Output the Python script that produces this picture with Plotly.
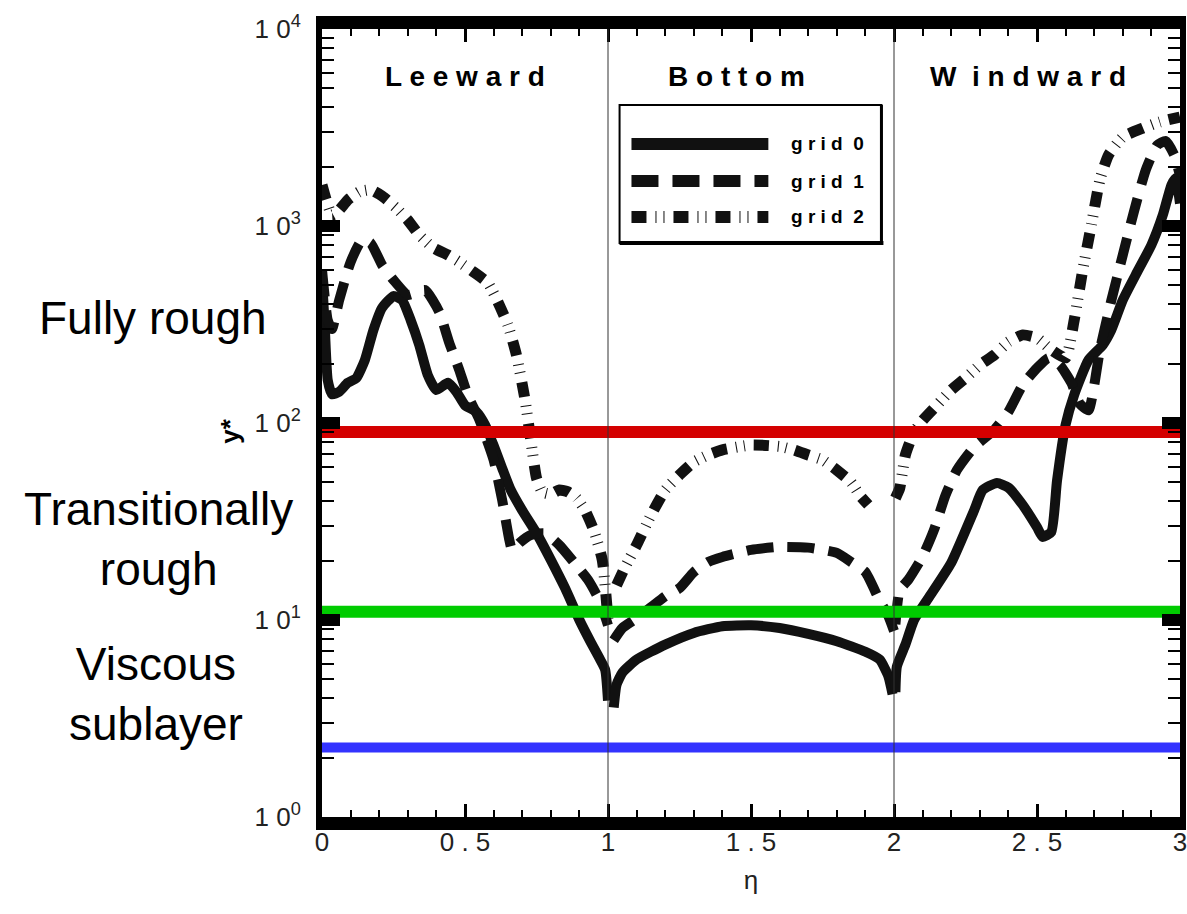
import plotly.graph_objects as go

# ---------------- data ----------------
# grid 0 (solid)
eta_g0 = [0.0, 0.01, 0.02, 0.035, 0.06, 0.09, 0.12, 0.15, 0.18, 0.21, 0.25, 0.28, 0.31, 0.34,
          0.37, 0.40, 0.44, 0.47, 0.50, 0.54, 0.57, 0.60, 0.63, 0.66, 0.70, 0.75, 0.80, 0.85,
          0.90, 0.94, 0.97, 0.99, 1.0,
          None,
          1.02, 1.03, 1.05, 1.10, 1.20, 1.30, 1.40, 1.50, 1.60, 1.70, 1.80, 1.90, 1.95, 1.98, 1.995,
          None,
          2.005, 2.01, 2.04, 2.07, 2.12, 2.20, 2.28, 2.31, 2.36, 2.40, 2.45, 2.50, 2.52, 2.55,
          2.57, 2.60, 2.63, 2.68, 2.73, 2.76, 2.80, 2.85, 2.90, 2.94, 2.97, 2.985, 3.0]
g0 = [550, 300, 165, 140, 144, 160, 169, 209, 297, 384, 441, 421, 333, 249,
      175, 147, 160, 144, 123, 114, 98, 77, 59, 45.7, 36, 27.6, 20.2, 14.5,
      10, 7.7, 6.4, 5.6, 3.9,
      None,
      3.6, 4.7, 5.4, 6.3, 7.5, 8.6, 9.3, 9.4, 9.1, 8.5, 7.8, 6.9, 6.3, 5.2, 4.2,
      None,
      4.3, 5.8, 7.5, 10, 12.9, 19.5, 36, 45.7, 49.6, 47, 38.4, 29.6, 26.4, 28,
      51, 98, 139, 209, 249, 297, 421, 583, 801, 1138, 1616, 1750, 1300]

# grid 1 (dashed)
eta_g1 = [0.0, 0.02, 0.035, 0.06, 0.10, 0.14, 0.17, 0.21, 0.25, 0.30, 0.36, 0.41, 0.445, 0.48,
          0.51, 0.55, 0.60, 0.63, 0.655, 0.665, 0.69, 0.73, 0.78, 0.83, 0.88, 0.93, 0.97, 1.0,
          None,
          1.02, 1.05, 1.10, 1.15, 1.20, 1.25, 1.30, 1.35, 1.40, 1.50, 1.60, 1.70, 1.80, 1.85,
          1.90, 1.95, 1.98, 2.0,
          None,
          2.005, 2.02, 2.05, 2.10, 2.14, 2.18, 2.22, 2.28, 2.35, 2.40, 2.45, 2.50, 2.54, 2.58,
          2.62, 2.65, 2.68, 2.72, 2.76, 2.80, 2.84, 2.88, 2.92, 2.95, 2.98, 3.0]
g1 = [600, 333, 300, 420, 656, 850, 820, 634, 532, 447, 473, 366, 255, 186,
      138, 104, 65, 40.6, 25.5, 22.6, 24.6, 27, 27.5, 24, 19.7, 16, 12.6, 9.4,
      None,
      7.9, 9.1, 10.2, 11.6, 13.2, 14.5, 17.5, 19.7, 20.9, 22.7, 23.5, 23.3, 21.9, 19.7,
      17.5, 12.5, 10.5, 8.8,
      None,
      9.5, 14.2, 16, 21, 28.7, 43, 57.7, 75.5, 92, 114, 156, 190, 214, 197,
      160, 125, 116, 235, 420, 713, 1200, 1920, 2570, 2700, 2290, 1800]

# grid 2 (dash-dot-dot)
eta_g2 = [0.0, 0.015, 0.035, 0.06, 0.09, 0.13, 0.17, 0.21, 0.26, 0.30, 0.34, 0.39, 0.44, 0.48,
          0.53, 0.58, 0.62, 0.65, 0.68, 0.71, 0.73, 0.75, 0.77, 0.80, 0.83, 0.86, 0.89, 0.92,
          0.95, 0.98, 1.0,
          None,
          1.03, 1.06, 1.10, 1.15, 1.20, 1.25, 1.30, 1.35, 1.40, 1.50, 1.60, 1.65, 1.70, 1.75,
          1.80, 1.85, 1.88, 1.91,
          None,
          2.005, 2.02, 2.04, 2.07, 2.10, 2.15, 2.20, 2.25, 2.30, 2.35, 2.40, 2.45, 2.50, 2.55,
          2.60, 2.63, 2.66, 2.69, 2.72, 2.75, 2.80, 2.87, 2.93, 3.0]
g2 = [1616, 1355, 1138, 1205, 1355, 1490, 1525, 1420, 1233, 1072, 900, 773, 713, 657,
      584, 514, 397, 314, 221, 131, 82, 52.6, 44.7, 43.6, 45.7, 44.7, 41.6, 36,
      28.6, 20.2, 10,
      None,
      15, 18.6, 24, 34, 45.7, 54.5, 63.4, 68.8, 73, 77.3, 76, 73, 68.8, 65,
      57.7, 50, 43, 38.4,
      None,
      41.6, 46.7, 69, 90, 103, 123, 147, 169, 197, 221, 258, 280, 270, 235,
      214, 333, 598, 1011, 1714, 2291, 2830, 3140, 3376, 3576]

series_names = ["grid 0", "grid 1", "grid 2"]
legend_labels = ["g r i d  0", "g r i d  1", "g r i d  2"]

# regime thresholds and labels
thresholds = [90, 11, 2.25]
regime_labels = ["Fully rough", "Transitionally<br>rough", "Viscous<br>sublayer"]

# zone dividers and names
dividers = [1, 2]
zone_names = ["L e e w a r d", "B o t t o m", "W  i n d w a r d"]
zone_centers = [0.5, 1.45, 2.47]

x_tickvals = [0, 0.5, 1, 1.5, 2, 2.5, 3]
x_ticktext = ["0", "0 . 5", "1", "1 . 5", "2", "2 . 5", "3"]
y_tickvals = [1, 10, 100, 1000, 10000]
y_ticktext = ["1 0<sup>0</sup>", "1 0<sup>1</sup>", "1 0<sup>2</sup>", "1 0<sup>3</sup>", "1 0<sup>4</sup>"]
y_minor = [m * 10 ** d for d in range(4) for m in range(2, 10)]

# ---------------- styles ----------------
ARIAL = "Liberation Sans, Arial, sans-serif"
dashes = ["solid", "27px,14px", "15px,9px,1px,7px,1px,9px"]
widths = [10, 10, 11]
thr_colors = ["#d40000", "#00cc00", "#3333ff"]
thr_widths = [12, 12, 10]

# pixel helpers for paper-placed decorations (plot area: x 322..1187, y 29..817)
def px_x(p):
    return (p - 322) / 865

def px_y(p):
    return 1 - (p - 29) / 788

fig = go.Figure()
for xs, ys, name, dash, w in zip([eta_g0, eta_g1, eta_g2], [g0, g1, g2], series_names, dashes, widths):
    fig.add_trace(go.Scatter(x=xs, y=ys, mode="lines", name=name, connectgaps=False,
                             line=dict(color="#111111", width=w, dash=dash, shape="spline", smoothing=0.5),
                             showlegend=False))

for t, c, w in zip(thresholds, thr_colors, thr_widths):
    fig.add_trace(go.Scatter(x=[0, 3], y=[t, t], mode="lines", line=dict(color=c, width=w),
                             showlegend=False, hoverinfo="skip"))

for d in dividers:
    fig.add_shape(type="line", xref="x", yref="paper", x0=d, x1=d, y0=0, y1=1,
                  line=dict(color="#333333", width=1), layer="above")

for name, cx in zip(zone_names, zone_centers):
    fig.add_annotation(x=cx, xref="x", y=px_y(76), yref="paper", xanchor="center", yanchor="middle",
                       text=name, showarrow=False,
                       font=dict(family=ARIAL, size=28, color="black", weight="bold"))

# manual legend box
fig.add_shape(type="rect", xref="paper", yref="paper", x0=px_x(622), x1=px_x(886),
              y0=px_y(243), y1=px_y(105),
              line=dict(color="black", width=2), fillcolor="white", layer="above")
fig.add_shape(type="line", xref="paper", yref="paper", x0=px_x(622), x1=px_x(888),
              y0=px_y(243), y1=px_y(243), line=dict(color="black", width=4), layer="above")
fig.add_shape(type="line", xref="paper", yref="paper", x0=px_x(886), x1=px_x(886),
              y0=px_y(245), y1=px_y(105), line=dict(color="black", width=3), layer="above")
leg_rows_px = [144, 181, 217]
for ypx, lab, dash in zip(leg_rows_px, legend_labels, dashes):
    fig.add_shape(type="line", xref="paper", yref="paper", x0=px_x(634), x1=px_x(772),
                  y0=px_y(ypx), y1=px_y(ypx), line=dict(color="#111111", width=12, dash=dash),
                  layer="above")
    fig.add_annotation(x=px_x(793), xref="paper", y=px_y(ypx), yref="paper", xanchor="left",
                       yanchor="middle", text=lab, showarrow=False,
                       font=dict(family=ARIAL, size=19, color="black", weight="bold"))

# regime labels on the left
reg_px = [(152, 318), (157, 539), (155, 694)]
for lab, (px, py) in zip(regime_labels, reg_px):
    fig.add_annotation(x=px_x(px), xref="paper", y=px_y(py), yref="paper",
                       text=lab, showarrow=False, font=dict(family=ARIAL, size=46, color="black"),
                       align="center", xanchor="center", yanchor="middle")

# y-axis title
fig.add_annotation(x=px_x(229), xref="paper", y=px_y(431), yref="paper", xanchor="center",
                   yanchor="middle", text="y*", textangle=-90, showarrow=False,
                   font=dict(family=ARIAL, size=26, color="black", weight="bold"))

fig.update_layout(
    width=1187, height=914,
    margin=dict(l=322, r=0, t=29, b=97),
    paper_bgcolor="white", plot_bgcolor="white",
    showlegend=False,
    xaxis=dict(range=[0, 3], showgrid=False, zeroline=False, showline=True, linecolor="black",
               linewidth=13, mirror="ticks", ticks="inside", ticklen=13, tickwidth=3, tickcolor="black",
               tickvals=x_tickvals, ticktext=x_ticktext, ticklabeloverflow="allow",
               ticklabelstandoff=-10,
               tickfont=dict(family=ARIAL, size=26, color="#222222"),
               minor=dict(ticks="inside", ticklen=7, tickwidth=1.5, tickcolor="black", dtick=0.1, tick0=0),
               title=dict(text="η", font=dict(family=ARIAL, size=26, color="#222222"), standoff=20)),
    yaxis=dict(type="log", range=[0, 4], showgrid=False, zeroline=False, showline=True, linecolor="black",
               linewidth=6, mirror="ticks", ticks="inside", ticklen=18, tickwidth=12, tickcolor="black",
               tickvals=y_tickvals, ticktext=y_ticktext, ticklabeloverflow="allow",
               ticklabelstandoff=10,
               tickfont=dict(family=ARIAL, size=26, color="#222222"),
               minor=dict(ticks="inside", ticklen=12, tickwidth=2, tickcolor="black",
                          tickmode="array", tickvals=y_minor)),
)

fig.write_html("out.html")
